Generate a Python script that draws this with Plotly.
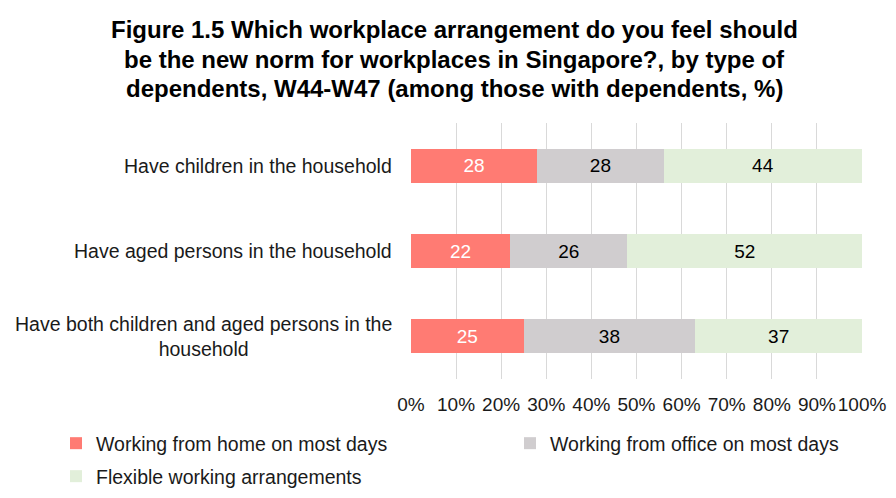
import plotly.graph_objects as go

categories = ["Have children in the household",
              "Have aged persons in the household",
              "Have both children and aged persons in the<br>household"]
series_names = ["Working from home on most days",
                "Working from office on most days",
                "Flexible working arrangements"]
home = [28, 22, 25]
office = [28, 26, 38]
flexible = [44, 52, 37]
tick_values = list(range(0, 101, 10))
tick_labels = [f"{v}%" for v in tick_values]
title_lines = ["Figure 1.5 Which workplace arrangement do you feel should",
               "be the new norm for workplaces in Singapore?, by type of",
               "dependents, W44-W47 (among those with dependents, %)"]

colors = ["#FF7B73", "#D0CDCF", "#E2EFDA"]
text_colors = ["white", "black", "black"]
legend_ids = ["legend", "legend2", "legend3"]

FONT = "Liberation Sans, Arial, Helvetica, sans-serif"
ykeys = ["c1", "c2", "c3"]

fig = go.Figure()
for name, vals, col, tc, lg in zip(series_names, [home, office, flexible], colors, text_colors, legend_ids):
    fig.add_trace(go.Bar(
        y=ykeys, x=vals, name=name, orientation="h", legend=lg,
        marker=dict(color=col, line=dict(width=0)),
        text=[str(v) for v in vals], textposition="inside", insidetextanchor="middle",
        textfont=dict(color=tc, size=19, family=FONT),
        hoverinfo="skip",
    ))

for k, lab in zip(ykeys, categories):
    fig.add_annotation(x=0, xref="paper", y=k, yref="y", text=lab, showarrow=False,
                       xanchor="right", xshift=-16, yshift=0, align="center",
                       font=dict(size=19.5, color="#1a1a1a", family=FONT))

# title lines, plot area spans pixel 123.3 (y=1) to 379.3 (y=0)
for i, line in enumerate(title_lines):
    py = 30 + 29.5 * i
    fig.add_annotation(
        text=f"<b>{line}</b>", xref="paper", yref="paper",
        x=0.0993, y=(379.3 - py) / 256, xanchor="center", yanchor="middle",
        showarrow=False, font=dict(size=24, color="black", family=FONT))

leg_common = dict(orientation="h", xanchor="left", yanchor="top",
                  xref="container", yref="container",
                  font=dict(size=19.5, color="#1a1a1a", family=FONT),
                  itemwidth=30, bgcolor="rgba(0,0,0,0)")

fig.update_layout(
    width=896, height=498,
    barmode="stack", bargap=0.6,
    margin=dict(l=410, r=33, t=123, b=119, autoexpand=False),
    paper_bgcolor="white", plot_bgcolor="white",
    font=dict(family=FONT, color="#1a1a1a"),
    xaxis=dict(range=[-0.2, 100.2], tickvals=tick_values, ticktext=tick_labels,
               showgrid=True, gridcolor="#D9D9D9", gridwidth=1, zeroline=False,
               showline=False, ticks="", tickangle=0, ticklabelstandoff=12,
               tickfont=dict(size=19, color="#1a1a1a"), fixedrange=True),
    yaxis=dict(autorange="reversed", showticklabels=False, showgrid=False,
               zeroline=False, ticks="", fixedrange=True),
    legend=dict(x=56 / 896, y=1 - 424 / 498, **leg_common),
    legend2=dict(x=510 / 896, y=1 - 424 / 498, **leg_common),
    legend3=dict(x=56 / 896, y=1 - 457 / 498, **leg_common),
    showlegend=True,
)

fig.write_html("out.html")
